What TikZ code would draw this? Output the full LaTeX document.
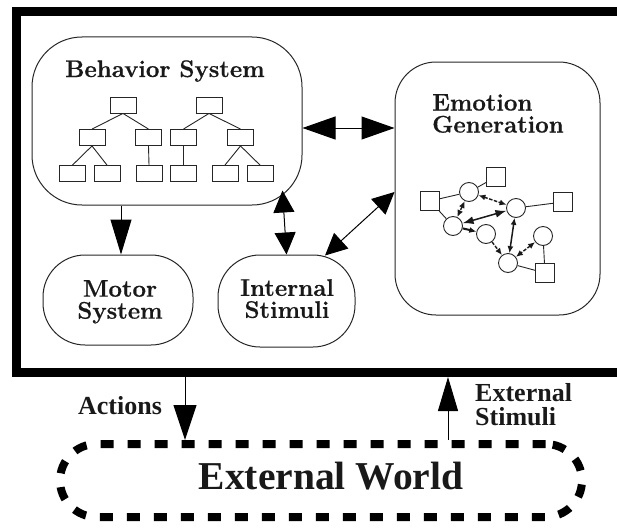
\documentclass[tikz,border=0pt]{standalone}
\usepackage{fontspec}
\usepackage{graphicx}
\newfontfamily\labelfont{Liberation Serif}
\newfontfamily\sysfont{Latin Modern Roman}[BoldFeatures={FakeBold=0.6}]
\usetikzlibrary{arrows.meta,calc}

\tikzset{
  outerframe/.style={draw=black, line width=9pt, minimum width=644pt, minimum height=361pt, inner sep=0pt},
  sysbox/.style={draw=black!85, line width=1pt, inner sep=0pt},
  systitle/.style={font=\sysfont\bfseries\fontsize{24}{22}\selectfont, inner sep=0pt, text=black!90},
  outtitle/.style={font=\labelfont\bfseries\fontsize{26}{24.5}\selectfont, inner sep=0pt, text=black!90},
  tbox/.style={draw=black!85, line width=0.9pt, minimum width=26pt, minimum height=16pt, inner sep=0pt},
  tline/.style={draw=black!85, line width=0.9pt},
  sq/.style={draw=black!85, line width=0.9pt, minimum size=19pt, inner sep=0pt},
  circ/.style={draw=black!85, line width=0.9pt, circle, minimum size=19pt, inner sep=0pt},
  nline/.style={draw=black!85, line width=0.9pt},
  narrow/.style={draw=black!90, line width=1.4pt, dash pattern=on 3.5pt off 1.5pt},
  stip/.tip={Latex[length=7pt,width=6pt]},
  mtip/.tip={Latex[length=11pt,width=8pt]},
  bigarrow/.style={draw=black, line width=1pt, -{Triangle[length=35pt,width=21pt]}},
  dblbig/.style={draw=black, line width=1pt, {Triangle[length=33pt,width=23pt]}-{Triangle[length=33pt,width=23pt]}},
  dblmid/.style={draw=black, line width=1pt, {Triangle[length=22pt,width=21pt]}-{Triangle[length=22pt,width=21pt]}},
  worldbox/.style={draw=black, line width=8pt, dash pattern=on 13pt off 14pt, rounded corners=36.5pt,
                   minimum width=522pt, minimum height=73pt, inner sep=0pt}
}

\begin{document}
\begin{tikzpicture}[x=1pt, y=-1pt]
  \useasboundingbox (0,0) rectangle (617,527);
  \clip (0,0) rectangle (617,527);

  % agent frame (runs off to the right)
  \node[outerframe] (frame) at (338,192) {};

  % behavior system with its two hierarchies
  \node[sysbox, rounded corners=50pt, minimum width=270pt, minimum height=168pt] (beh) at (167,121) {};
  \node[systitle, anchor=base] (behT) at (165,77) {Behavior System};

  \node[tbox] (r1) at (123,105) {};
  \node[tbox] (a1) at (92,137.5) {};
  \node[tbox] (b1) at (148.5,137.5) {};
  \node[tbox] (a11) at (72.5,173.5) {};
  \node[tbox] (a12) at (107,173.5) {};
  \node[tbox] (b11) at (149,173.5) {};
  \draw[tline] (r1.south) -- (a1.north);
  \draw[tline] (r1.south) -- (b1.north);
  \draw[tline] (a1.south) -- (a11.north);
  \draw[tline] (a1.south) -- (a12.north);
  \draw[tline] (b1.south) -- (b11.north);

  \node[tbox] (r2) at (209,105) {};
  \node[tbox] (a2) at (183.5,137.5) {};
  \node[tbox] (b2) at (240.5,137.5) {};
  \node[tbox] (a21) at (183.5,173.5) {};
  \node[tbox] (b21) at (225,173.5) {};
  \node[tbox] (b22) at (260,173.5) {};
  \draw[tline] (r2.south) -- (a2.north);
  \draw[tline] (r2.south) -- (b2.north);
  \draw[tline] (a2.south) -- (a21.north);
  \draw[tline] (b2.south) -- (b21.north);
  \draw[tline] (b2.south) -- (b22.north);

  % emotion generation with its network
  \node[sysbox, rounded corners=41pt, minimum width=205pt, minimum height=253pt] (emo) at (497.5,188.5) {};
  \node[systitle, anchor=north west, align=left] (emoT) at (432,94) {Emotion\\Generation};

  \node[sq] (s1) at (430,201) {};
  \node[sq] (s2) at (496,177) {};
  \node[sq] (s3) at (563,202) {};
  \node[sq] (s4) at (545,273) {};
  \node[circ] (c1) at (469,192) {};
  \node[circ] (c2) at (516,208) {};
  \node[circ] (c3) at (453,226) {};
  \node[circ] (c4) at (486,234) {};
  \node[circ] (c5) at (543,236) {};
  \node[circ] (c6) at (508,263) {};
  \draw[nline] (s1) -- (c1);
  \draw[nline] (s1) -- (c3);
  \draw[nline] (c1) -- (s2);
  \draw[nline] (c2) -- (s3);
  \draw[nline] (c5) -- (s4);
  \draw[nline] (c6) -- (s4);
  \draw[narrow, stip-stip] (c1) -- (c3);
  \draw[narrow, stip-stip] (c1) -- (c2);
  \draw[draw=black!90, line width=1.5pt, mtip-mtip] (c3) -- (c2);
  \draw[draw=black!90, line width=2pt, -stip] (c3) -- (c4);
  \draw[narrow, -stip] (c4) -- (c6);
  \draw[draw=black!90, line width=1.5pt, stip-stip] (c2) -- (c6);
  \draw[narrow, stip-stip] (c5) -- (c6);

  % motor system and internal stimuli
  \node[sysbox, rounded corners=42pt, minimum width=150pt, minimum height=90pt] (mot) at (118,300) {};
  \node[systitle, anchor=north, align=center] (motT) at (120,280) {Motor\\System};
  \node[sysbox, rounded corners=42pt, minimum width=137pt, minimum height=92pt] (int) at (286.5,301) {};
  \node[systitle, anchor=north, align=center] (intT) at (287,279) {Internal\\Stimuli};

  % connectors inside the agent
  \draw[bigarrow] ([xshift=3pt]mot.north |- beh.south) -- ([xshift=3pt]mot.north);
  \draw[dblmid] ([xshift=-20pt,yshift=15pt]beh.south east) -- (int.north);
  \draw[dblbig] ([yshift=-7pt]beh.east) -- ([yshift=-7pt]beh.east -| emo.west);
  \draw[dblmid] ([xshift=38.5pt,yshift=-1pt]int.north) -- ([yshift=-3.5pt]emo.west);

  % external world
  \node[worldbox] (world) at (321,480.5) {};
  \node[font=\labelfont\bfseries\fontsize{39.5}{40}\selectfont, inner sep=0pt, anchor=base, text=black!90]
    (worldT) at (331,489) {External World};

  \coordinate (actx) at (185,0);
  \coordinate (extx) at (448,0);
  \draw[draw=black, line width=1pt, -{Triangle[length=35pt,width=23pt]}] (frame.south -| actx) -- (world.north -| actx);
  \draw[draw=black, line width=1pt, -{Triangle[length=34pt,width=20pt]}] (world.north -| extx) -- (frame.south -| extx);
  \node[outtitle, anchor=base] (actT) at (120,414) {Actions};
  \node[outtitle, anchor=north west, align=left] (extT) at (475,383) {External\\Stimuli};
\end{tikzpicture}
\end{document}
